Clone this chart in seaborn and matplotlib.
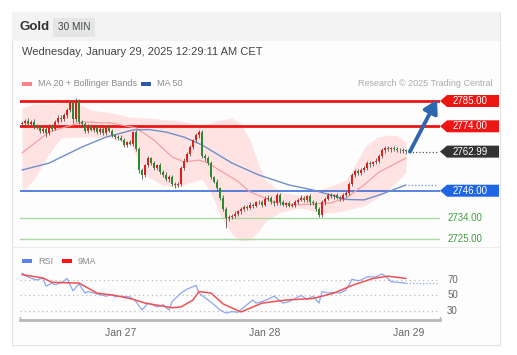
import numpy as np
import matplotlib
matplotlib.use("Agg")
import matplotlib.pyplot as plt
from matplotlib.patches import Rectangle, Polygon
from matplotlib.lines import Line2D
import seaborn as sns

# ---- data (30 min candles, index 0 .. 128) ----
first_open = 2775.0
closes = [
    2775.5, 2776.5, 2775, 2776, 2774, 2773.5, 2772, 2773, 2771, 2774,
    2773, 2776, 2777.5, 2777, 2779, 2781, 2784, 2777, 2785, 2776,
    2775, 2772, 2774, 2772.5, 2773.5, 2771.5, 2773, 2771, 2773.5, 2772,
    2770, 2769.5, 2769, 2768, 2766, 2767, 2766.5, 2771.5, 2764, 2755,
    2753, 2757, 2760, 2758, 2756, 2757, 2754, 2753, 2751, 2752,
    2749, 2748.5, 2749, 2756, 2759, 2762, 2765, 2768, 2770, 2771.5,
    2761, 2760, 2758, 2752, 2750, 2747, 2743, 2738, 2734, 2734.5,
    2735, 2736, 2737, 2738, 2739, 2738.5, 2740, 2739.5, 2741, 2741,
    2740, 2742.5, 2743, 2741, 2740.5, 2744, 2741, 2740, 2740.5, 2739.5,
    2740, 2741, 2742, 2743, 2742, 2743.5, 2741, 2740.5, 2738, 2735.5,
    2741, 2742.5, 2744, 2743.5, 2744, 2743, 2742.5, 2744, 2745, 2749,
    2753, 2754.5, 2753.5, 2755, 2756, 2758, 2757.5, 2758.5, 2759, 2761,
    2763.5, 2764.5, 2764, 2764.5, 2764, 2763.5, 2763.8, 2763.2, 2762.99]
wick_up = [
    1.0, 0.8, 1.2, 0.6, 1.0, 0.8, 1.0, 1.2, 0.8, 1.0,
    1.0, 0.8, 1.2, 1.5, 0.8, 1.0, 1.2, 1.0, 1.5, 1.0,
    0.8, 1.0, 0.8, 1.0, 0.6, 1.0, 0.8, 1.0, 0.6, 0.8,
    1.0, 0.8, 0.6, 1.0, 0.8, 0.6, 1.0, 0.5, 1.0, 0.8,
    1.0, 0.8, 1.0, 0.6, 1.0, 0.8, 1.0, 0.8, 1.0, 0.8,
    1.0, 0.8, 0.6, 0.8, 1.0, 0.8, 1.0, 0.6, 1.0, 0.8,
    1.0, 0.8, 1.0, 0.8, 0.6, 1.0, 0.8, 1.0, 0.8, 1.0,
    0.8, 1.0, 0.6, 0.8, 1.0, 0.8, 1.0, 0.8, 0.6, 1.0,
    0.8, 1.0, 1.2, 0.8, 1.0, 0.8, 1.0, 0.8, 0.6, 1.0,
    0.8, 1.0, 0.8, 1.0, 0.6, 0.8, 1.0, 0.8, 1.0, 0.8,
    1.0, 0.8, 1.0, 0.8, 0.6, 1.0, 0.8, 1.0, 0.8, 1.0,
    0.8, 1.0, 0.8, 1.0, 0.8, 1.0, 0.8, 0.6, 1.0, 0.8,
    1.0, 0.8, 1.0, 0.6, 0.8, 1.0, 0.8, 0.6, 0.8]
wick_dn = [
    0.8, 1.0, 0.6, 1.0, 1.2, 0.8, 1.0, 0.8, 1.5, 0.8,
    1.0, 0.6, 0.8, 1.0, 0.8, 1.2, 0.8, 1.5, 1.0, 1.2,
    1.0, 0.8, 1.0, 0.6, 1.0, 0.8, 1.0, 0.8, 1.0, 0.6,
    0.8, 1.0, 0.8, 0.6, 1.0, 0.8, 0.6, 1.0, 0.8, 1.5,
    2.0, 1.0, 0.8, 1.0, 0.8, 1.0, 0.8, 1.0, 0.8, 1.0,
    0.8, 1.5, 1.0, 0.8, 1.0, 0.6, 0.8, 1.0, 0.8, 1.0,
    0.8, 1.0, 0.8, 1.0, 0.8, 1.0, 1.2, 1.0, 4.2, 1.0,
    0.8, 1.0, 0.8, 1.0, 0.8, 1.0, 0.6, 1.0, 0.8, 0.6,
    1.0, 0.8, 1.0, 0.8, 1.0, 0.6, 1.0, 0.8, 1.0, 0.8,
    0.6, 1.0, 0.8, 0.6, 1.0, 0.8, 1.0, 0.8, 1.0, 1.0,
    0.8, 1.0, 0.6, 0.8, 1.0, 0.8, 1.0, 0.8, 0.6, 1.0,
    0.8, 1.0, 0.8, 0.6, 1.0, 0.8, 1.0, 0.8, 1.0, 0.8,
    0.6, 1.0, 0.8, 1.0, 0.6, 0.8, 1.0, 0.8, 1.0]

# Bollinger bands (MA 20)
band_idx = [0, 4, 9, 13, 17, 23, 30, 36, 42, 47, 52, 56, 60, 63, 66, 70,
            73, 76, 79, 81, 86, 93, 99, 104, 108, 111, 114, 118, 122, 125, 128]
band_upper = [2782.0, 2783.7, 2783.7, 2784.1, 2785.2, 2781, 2779.8, 2778, 2777.6,
              2777, 2776.5, 2775.4, 2774.8, 2775.5, 2776.7, 2777.6, 2775, 2768,
              2757, 2751, 2745.4, 2744, 2746.3, 2748.5, 2750.7, 2757, 2764.5,
              2769, 2770.2, 2770, 2767.2]
band_lower = [2745.4, 2751, 2762, 2769, 2769.3, 2769.3, 2769, 2765.9, 2752,
              2748.3, 2747.5, 2749.5, 2751, 2745, 2735.4, 2727, 2724.1, 2724.6,
              2728.5, 2732.4, 2736.7, 2738.5, 2736.3, 2736.5, 2737.5, 2738.5,
              2739.5, 2742.5, 2746.3, 2750, 2754.1]

ma20_idx = [0, 9, 20, 30, 38, 44, 50, 54, 59, 62, 72, 76, 84, 91, 97, 103, 108, 114, 119, 128]
ma20_val = [2762.4, 2771.5, 2775.9, 2775.4, 2773.3, 2768, 2760.7, 2758.5, 2759.3,
            2758, 2750, 2745.5, 2741.1, 2739.8, 2740.2, 2740.7, 2742.8, 2748.5,
            2754.1, 2760.2]
ma50_idx = [0, 9, 20, 28, 37, 42, 48, 54, 60, 70, 79, 89, 97, 103, 108, 114, 119, 128]
ma50_val = [2755, 2758, 2765, 2769.3, 2772.4, 2772.6, 2771.5, 2769.3, 2765.9, 2758,
            2752.8, 2748.5, 2746.3, 2744.1, 2742.2, 2742, 2744.1, 2748.5]

# levels
res_levels = [2785.0, 2774.0]
pivot_level = 2746.0
sup_levels = [2734.0, 2725.0]
last_price = 2762.99

# RSI panel
rsi_idx = [0, 2, 4, 5, 7, 8, 10, 11, 13, 15, 17, 19, 21, 22, 24, 26, 28, 30, 31, 33,
           36, 38, 40, 42, 44, 45, 47, 49, 50, 53, 55, 58, 59, 62, 64, 66, 68, 70, 72, 74,
           77, 78, 80, 82, 84, 87, 89, 91, 93, 95, 97, 99, 100, 102, 104, 106, 108, 110,
           112, 113, 115, 118, 120, 122, 123, 125, 128]
rsi_val = [79, 74, 71, 70, 72.6, 62, 66, 64, 66, 72, 56, 65, 53, 55, 53, 51, 49, 51, 48, 49,
           48, 42, 31, 40, 37, 35, 38, 31, 42, 53, 58, 63, 53, 44, 38, 31, 27, 29, 28, 35,
           44, 40, 42, 45, 49, 40, 42, 46, 50, 45, 49, 40, 55, 53, 54, 53, 57, 71,
           69, 70, 74, 74, 78, 72, 68, 67, 66]
ma9_idx = [0, 7, 10, 19, 25, 31, 37, 41, 44, 50, 53, 57, 59, 63, 67, 73, 80, 88, 97, 104, 110, 117, 122, 128]
ma9_val = [77, 72.6, 67, 66, 53, 50, 45, 40, 38, 34, 35, 44, 55, 53, 39, 28.5, 40, 44, 46, 53, 63, 72, 75, 72]
rsi_levels = [70, 50, 30]

date_ticks = [33, 81, 129]
date_labels = ["Jan 27", "Jan 28", "Jan 29"]

# ---- figure ----
W, H = 517, 355
sns.set_theme(style="white")
plt.rcParams['font.family'] = ['Liberation Sans', 'DejaVu Sans']

fig = plt.figure(figsize=(W / 100, H / 100), dpi=100)
fig.patch.set_facecolor("white")


def fx(x):
    return x / W


def fy(y):
    return 1 - y / H


# card + header
fig.add_artist(Rectangle((fx(12), fy(345)), 488 / W, 333 / H, transform=fig.transFigure,
                         fc="#fdfdfd", ec="#e3e3e3", lw=0.8, zorder=0))
fig.add_artist(Rectangle((fx(12), fy(41)), 488 / W, 29 / H, transform=fig.transFigure,
                         fc="#f3f3f3", ec="none", zorder=0))
fig.add_artist(Rectangle((fx(53), fy(37)), 42 / W, 19 / H, transform=fig.transFigure,
                         fc="#e3e5e7", ec="none", zorder=1))
fig.add_artist(Line2D([fx(12), fx(500)], [fy(247), fy(247)], transform=fig.transFigure,
                      color="#ececec", lw=0.8))

fig.text(fx(20), fy(27), "Gold", fontsize=9.5, fontweight="bold", color="#333333", va="center")
fig.text(fx(74), fy(27), "30 MIN", fontsize=7.2, color="#444444", ha="center", va="center")
fig.text(fx(22), fy(52), "Wednesday, January 29, 2025 12:29:11 AM CET", fontsize=8,
         color="#444444", va="center")

# legends
def legend_item(x, y, color, label):
    fig.add_artist(Rectangle((fx(x), fy(y + 1.8)), 10 / W, 3.6 / H, transform=fig.transFigure,
                             fc=color, ec="none"))
    fig.text(fx(x + 16), fy(y), label, fontsize=6.5, color="#8a8a8a", va="center")


legend_item(22, 84, "#f58585", "MA 20 + Bollinger Bands")
legend_item(141, 84, "#2b5ba8", "MA 50")
legend_item(22, 261, "#5a84e8", "RSI")
legend_item(62, 261, "#ff1414", "9MA")
fig.text(fx(493), fy(84), "Research \u00a9 2025 Trading Central", ha="right", va="center",
         fontsize=6.5, color="#ababab")

# ---- price panel ----
xmin, xmax = -0.67, 139.33
ax = fig.add_axes([fx(20), fy(246), 420 / W, 154 / H])
ax.set_xlim(xmin, xmax)
ax.set_ylim(2721.96, 2788.91)
ax.axis("off")

ax.fill_between(band_idx, band_lower, band_upper, color="#ffe3e3", lw=0, zorder=1)

for lv in sup_levels:
    ax.axhline(lv, color="#a9d9a2", lw=1.0, zorder=2)
ax.axhline(pivot_level, color="#2a62d8", lw=1.1, zorder=2)
for lv in res_levels:
    ax.axhline(lv, color="#ee1515", lw=2.0, zorder=2)

sns.lineplot(x=ma20_idx, y=ma20_val, ax=ax, color="#f5a0a0", lw=0.9, zorder=3)
sns.lineplot(x=ma50_idx, y=ma50_val, ax=ax, color="#6f8fcb", lw=1.0, zorder=3)
ax.plot([ma50_idx[-1] + 0.5, xmax - 0.6], [ma50_val[-1]] * 2, ls=":", color="#6f8fcb", lw=0.9)

idx = np.arange(len(closes))
c = np.array(closes)
o = np.r_[first_open, c[:-1]]
hi = np.maximum(o, c) + np.array(wick_up)
lo = np.minimum(o, c) - np.array(wick_dn)
cols = np.where(c >= o, "#e01e1e", "#2b8a2b")
body = np.where(np.abs(c - o) < 0.3, 0.3, c - o)
ax.vlines(idx, lo, hi, color="#555555", lw=0.6, zorder=4)
ax.bar(idx, body, bottom=o, width=0.72, color=cols, lw=0, zorder=5)

ax.plot([idx[-1] + 1, xmax - 0.6], [last_price] * 2, ls=":", color="#555555", lw=0.9)

ax.annotate("", xy=(xmax - 1.0, res_levels[0] + 0.6), xytext=(idx[-1] + 1.3, last_price),
            arrowprops=dict(arrowstyle="-|>,head_length=0.55,head_width=0.32", color="#2e67ad",
                            lw=2.8, shrinkA=0, shrinkB=0, mutation_scale=14),
            annotation_clip=False, zorder=6)

# right-hand price labels
ytr = ax.get_yaxis_transform()
half = 6 / 2.3


def price_box(price, text, color):
    pts = [(1.0, price), (1.0167, price - half), (1.1405, price - half),
           (1.1405, price + half), (1.0167, price + half)]
    ax.add_patch(Polygon(pts, closed=True, transform=ytr, fc=color, ec="none", clip_on=False))
    ax.text(1.0714, price, text, transform=ytr, ha="center", va="center", fontsize=7,
            color="white", clip_on=False)


price_box(res_levels[0], f"{res_levels[0]:.2f}", "#ee1515")
price_box(res_levels[1], f"{res_levels[1]:.2f}", "#ee1515")
price_box(last_price, f"{last_price:.2f}", "#333333")
price_box(pivot_level, f"{pivot_level:.2f}", "#1f66e5")
for lv in sup_levels:
    ax.text(1.017, lv, f"{lv:.2f}", transform=ytr, ha="left", va="center", fontsize=7,
            color="#3e9e3e", clip_on=False)

# ---- RSI panel ----
rax = fig.add_axes([fx(20), fy(320), 420 / W, 55 / H])
rax.set_xlim(xmin, xmax)
rax.set_ylim(18.05, 89.5)
rax.set_facecolor("none")
for lv in rsi_levels:
    rax.plot([xmin, xmax - 0.6], [lv, lv], ls=(0, (1, 2.5)), color="#bdbdbd", lw=0.9)
    rax.text(1.017, lv, str(lv), transform=rax.get_yaxis_transform(), ha="left", va="center",
             fontsize=7, color="#666666")

sns.lineplot(x=rsi_idx, y=rsi_val, ax=rax, color="#8aa8f0", lw=0.9)
rax.plot([rsi_idx[-1], xmax - 0.6], [rsi_val[-1]] * 2, ls=":", color="#8aa8f0", lw=0.9)
sns.lineplot(x=ma9_idx, y=ma9_val, ax=rax, color="#f25050", lw=1.1)

for side in ["top", "right", "left"]:
    rax.spines[side].set_visible(False)
rax.spines["bottom"].set_color("#b8b8b8")
rax.spines["bottom"].set_linewidth(2)
for xe in (xmin, xmax):
    rax.plot([xe, xe], [18.05, 22.5], color="#b8b8b8", lw=1, clip_on=False)
rax.set_yticks([])
rax.set_xticks(date_ticks)
rax.set_xticklabels(date_labels)
rax.tick_params(axis="x", length=0, pad=6, labelsize=7.5, labelcolor="#666666")
rax.set_xlabel("")
rax.set_ylabel("")

fig.savefig("out.png", dpi=100)
